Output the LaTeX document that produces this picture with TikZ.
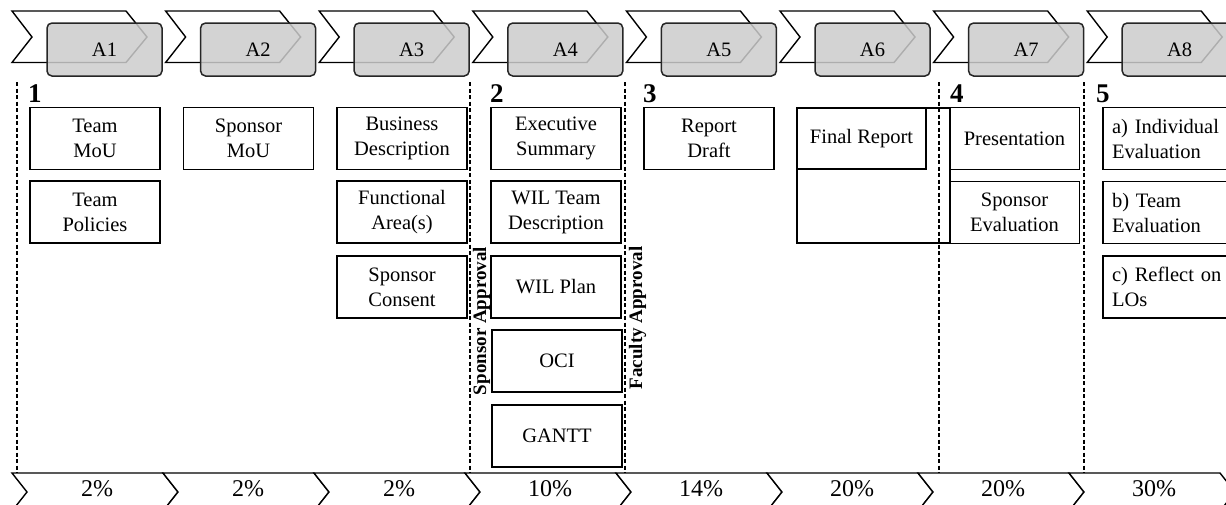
\documentclass[tikz,border=0pt]{standalone}
\usepackage{fontspec}
\setmainfont{Liberation Serif}
\begin{document}
\begin{tikzpicture}[x=1pt,y=-1pt,line join=miter,
  chev/.style={draw=black,line width=1.4pt,fill=white},
  abox/.style={draw=black!85,line width=1.5pt,rounded corners=5pt,fill=black!20,fill opacity=0.85,text opacity=1,
    minimum width=115pt,minimum height=53pt,inner sep=0pt,font=\fontsize{20.5}{25}\selectfont},
  stepbox/.style={draw=black,line width=1.6pt,minimum width=130pt,minimum height=62pt,inner sep=0pt,
    align=center,font=\fontsize{20.5}{25}\selectfont},
  leftbox/.style={draw=black,line width=1.6pt,minimum width=130pt,minimum height=62pt,inner xsep=9pt,inner ysep=0pt,
    text width=112pt,align=left,font=\fontsize{20.5}{25}\selectfont},
  phase/.style={dashed,dash pattern=on 4pt off 2.5pt,line width=1.3pt},
  num/.style={font=\fontsize{27}{30}\selectfont\bfseries,inner sep=0pt,anchor=base west},
  appr/.style={font=\fontsize{19}{22}\selectfont\bfseries,rotate=90,inner sep=0pt},
  pct/.style={font=\fontsize{24}{28}\selectfont,inner sep=0pt}]
\useasboundingbox (0,0) rectangle (1226,504);
\begin{scope}
\clip (0,0) rectangle (1226,504);
% top chevrons with activity boxes
\foreach \i in {1,...,8}{
  \pgfmathsetmacro\s{12+153.6*(\i-1)}
  \draw[chev] (\s,11) -- ++(114,0) -- ++(21,26) -- ++(-21,25.5) -- ++(-114,0) -- ++(20,-25.5) -- cycle;
  \node[abox] (A\i) at (\s+92.5,49.5) {A\i};
}
% bottom chevrons with weights
\foreach \i/\p in {1/2,2/2,3/2,4/10,5/14,6/20,7/20,8/30}{
  \pgfmathsetmacro\s{12+151*(\i-1)}
  \draw[chev] (\s,473) -- ++(151,0) -- ++(15,19) -- ++(-15,19) -- ++(-151,0) -- ++(15,-19) -- cycle;
  \node[pct] (P\i) at (\s+85,489) {\p\%};
}
\end{scope}
% phase separators
\foreach \x/\n in {17/d1,470/d2,625/d3,939/d4,1084/d5}{
  \coordinate (\n t) at (\x,82);
  \coordinate (\n b) at (\x,473);
  \draw[phase] (\n t) -- (\n b);
}
% phase numbers
\node[num] (n1) at (28,102) {1};
\node[num] (n2) at (490,102) {2};
\node[num] (n3) at (643,102) {3};
\node[num] (n4) at (950,102) {4};
\node[num] (n5) at (1096,102) {5};
% column 1
\node[stepbox] (teammou) at (95,138.5) {Team\\MoU};
\node[stepbox] (teampol) at (95,212) {Team\\Policies};
% column 2
\node[stepbox] (spmou) at (248.5,138.5) {Sponsor\\MoU};
% column 3
\node[stepbox] (busdesc) at (402,138.5) {Business\\Description};
\node[stepbox] (funcarea) at (402,212) {Functional\\Area(s)};
\node[stepbox] (spcons) at (402,287) {Sponsor\\Consent};
% column 4
\node[stepbox] (execsum) at (556,138.5) {Executive\\Summary};
\node[stepbox] (wilteam) at (556,212) {WIL Team\\Description};
\node[stepbox] (wilplan) at (556,287) {WIL Plan};
\node[stepbox] (oci) at (557,361) {OCI};
\node[stepbox] (gantt) at (557,436) {GANTT};
% column 5
\node[stepbox] (draft) at (709,138.5) {Report\\Draft};
% column 6
\node[stepbox,minimum width=153pt,minimum height=135pt] (frouter) at (873.5,175.5) {};
\node[stepbox,minimum width=129pt,minimum height=61pt] (final) at (861.5,138.5) {Final Report};
% column 7
\node[stepbox] (pres) at (1014.5,138.5) {Presentation};
\node[stepbox] (speval) at (1014.5,212.5) {Sponsor\\Evaluation};
% column 8
\node[leftbox] (indeval) at (1168,138.5) {a) Individual\\Evaluation};
\node[leftbox] (teameval) at (1168,212.5) {b) Team\\Evaluation};
\node[leftbox] (reflect) at (1168,287) {c) Reflect on\\LOs};
% approvals
\node[appr] (spappr) at (481.5,321) {Sponsor Approval};
\node[appr] (facappr) at (637.5,318) {Faculty Approval};
\end{tikzpicture}
\end{document}
